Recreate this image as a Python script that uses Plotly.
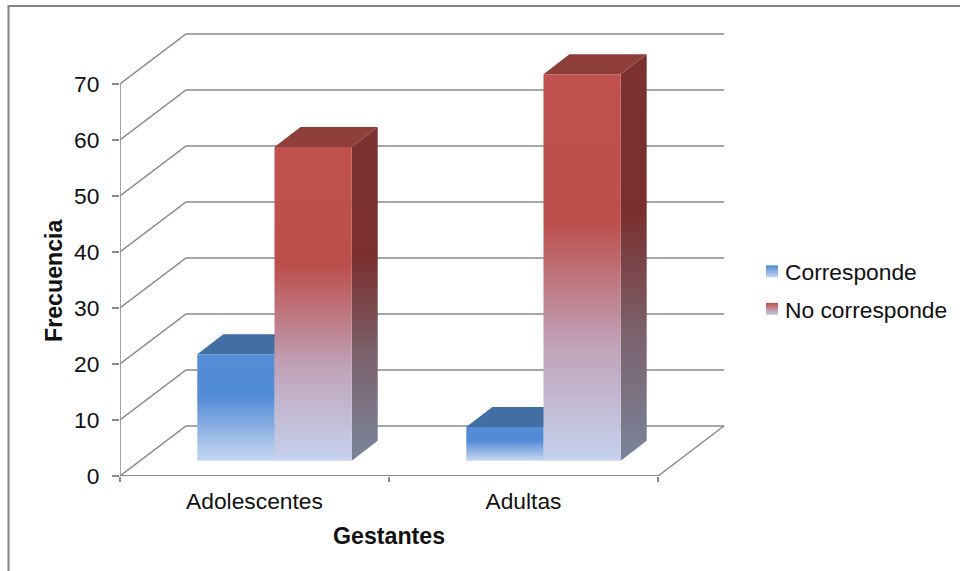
import plotly.graph_objects as go

# Chart data
categories = ["Adolescentes", "Adultas"]
corresponde = [19, 6]
no_corresponde = [56, 69]
y_ticks = [0, 10, 20, 30, 40, 50, 60, 70]

WIDTH, HEIGHT = 960, 571
PX_PER_CAT = 269.0   # horizontal pixels per category
PX_PER_UNIT = 5.6    # vertical pixels per value unit

# Oblique projection of the pseudo-3D box, expressed in axis units
WALL_DX, WALL_DY = 66 / PX_PER_CAT, 50 / PX_PER_UNIT
BAR_DX, BAR_DY = 26 / PX_PER_CAT, 20 / PX_PER_UNIT
FLOOR_DX, FLOOR_DY = 20 / PX_PER_CAT, 15.3 / PX_PER_UNIT
BAR_W = 77.2 / PX_PER_CAT

X_MIN, X_MAX = -0.5, 1.5
GRID = "#8a8a8a"
TEXT = "#111111"
FONT = "Liberation Sans, Arial, sans-serif"
FONT_SIZE = 22.8

series = [
    dict(
        name="Corresponde", values=corresponde, offset=-1,
        front=[[0, "#c6d7f1"], [0.62, "#5089d5"], [1, "#568fd7"]],
        side=[[0, "#7a8296"], [0.62, "#3f6ca2"], [1, "#3f6ca2"]],
        top="#416ea3", swatch=("#5089d5", "#c6d7f1"),
    ),
    dict(
        name="No corresponde", values=no_corresponde, offset=0,
        front=[[0, "#c5d2ee"], [0.30, "#c0a2b8"], [0.62, "#bc4f4b"], [1, "#c0514e"]],
        side=[[0, "#7a8297"], [0.30, "#7b626c"], [0.62, "#7a2f2e"], [1, "#7a3130"]],
        top="#8f3e3a", swatch=("#bf504d", "#c5cbe6"),
    ),
]

fig = go.Figure()


def polygon(xs, ys, color=None, gradient=None, y0=None, y1=None):
    trace = dict(
        x=xs + xs[:1], y=ys + ys[:1], mode="lines", line=dict(width=0),
        fill="toself", hoverinfo="skip", showlegend=False,
    )
    if gradient:
        trace["fillgradient"] = dict(type="vertical", colorscale=gradient, start=y0, stop=y1)
    else:
        trace["fillcolor"] = color
    fig.add_trace(go.Scatter(**trace))


def rule(xs, ys, width=1.5):
    fig.add_trace(go.Scatter(
        x=xs, y=ys, mode="lines", line=dict(color=GRID, width=width),
        hoverinfo="skip", showlegend=False,
    ))


# Back wall, side wall and floor
for v in y_ticks:
    rule([X_MIN, X_MIN + WALL_DX, X_MAX + WALL_DX], [v, v + WALL_DY, v + WALL_DY])
rule([X_MAX, X_MAX + WALL_DX], [0, WALL_DY])
rule([X_MIN, X_MIN], [0, y_ticks[-1]])
rule([X_MIN, X_MAX], [0, 0], width=2)

# Two-part columns drawn back to front: side, top, then the front face
for c in range(len(categories)):
    for s in series:
        v = s["values"][c]
        x0 = c + FLOOR_DX + s["offset"] * BAR_W
        x1 = x0 + BAR_W
        b, t = FLOOR_DY, FLOOR_DY + v
        polygon([x1, x1 + BAR_DX, x1 + BAR_DX, x1],
                [b, b + BAR_DY, t + BAR_DY, t],
                gradient=s["side"], y0=b + BAR_DY / 2, y1=t + BAR_DY / 2)
        polygon([x0, x1, x1 + BAR_DX, x0 + BAR_DX],
                [t, t, t + BAR_DY, t + BAR_DY], color=s["top"])
        polygon([x0, x1, x1, x0], [b, b, t, t], gradient=s["front"], y0=b, y1=t)

# Legend entries
for s in series:
    fig.add_trace(go.Scatter(
        x=[None], y=[None], mode="markers", name=s["name"], legendgroup=s["name"],
        marker=dict(symbol="square", size=12, color=s["swatch"][0],
                    angle=90, standoff=7,
                    gradient=dict(type="vertical", color=s["swatch"][1]),
                    line=dict(width=0)),
    ))

title_font = dict(family=FONT, size=23.2, color=TEXT)

fig.update_layout(
    width=WIDTH, height=HEIGHT,
    margin=dict(l=0, r=0, t=0, b=0),
    paper_bgcolor="white", plot_bgcolor="white",
    font=dict(family=FONT, size=FONT_SIZE, color=TEXT),
    showlegend=True,
    legend=dict(x=752 / WIDTH, y=1 - 250 / HEIGHT, xanchor="left", yanchor="top",
                tracegroupgap=5, itemwidth=30, indentation=-7, bgcolor="rgba(0,0,0,0)",
                font=dict(family=FONT, size=FONT_SIZE, color=TEXT)),
    xaxis=dict(
        domain=[120 / WIDTH, 726 / WIDTH],
        range=[X_MIN, X_MIN + 606 / PX_PER_CAT],
        tickmode="array", tickvals=list(range(len(categories))), ticktext=categories,
        ticks="", showgrid=False, zeroline=False, showline=False,
        automargin=False, ticklabelstandoff=9,
        minor=dict(tickmode="array", tickvals=[-0.5, 0.5, 1.5], ticks="outside",
                   ticklen=5, tickwidth=1.5, tickcolor=GRID, showgrid=False),
    ),
    yaxis=dict(
        domain=[(HEIGHT - 476) / HEIGHT, (HEIGHT - 28) / HEIGHT],
        range=[0, 448 / PX_PER_UNIT],
        tickmode="array", tickvals=y_ticks,
        ticks="outside", ticklen=7, tickwidth=1.5, tickcolor=GRID,
        showgrid=False, zeroline=False, showline=False, automargin=False,
        ticklabelstandoff=8,
    ),
    annotations=[
        dict(text="<b>Gestantes</b>", xref="paper", yref="paper", x=388.5 / WIDTH,
             y=1 - 536 / HEIGHT, xanchor="center", yanchor="middle",
             showarrow=False, font=title_font),
        dict(text="<b>Frecuencia</b>", xref="paper", yref="paper", x=54 / WIDTH,
             y=1 - 280 / HEIGHT, xanchor="center", yanchor="middle",
             textangle=-90, showarrow=False, font=title_font),
    ],
    shapes=[dict(
        type="path", xref="paper", yref="paper",
        path=f"M {8.5 / WIDTH} 0 L {8.5 / WIDTH} {1 - 6 / HEIGHT} L 1 {1 - 6 / HEIGHT}",
        line=dict(color="#868686", width=2),
    )],
)

fig.write_html("out.html")
